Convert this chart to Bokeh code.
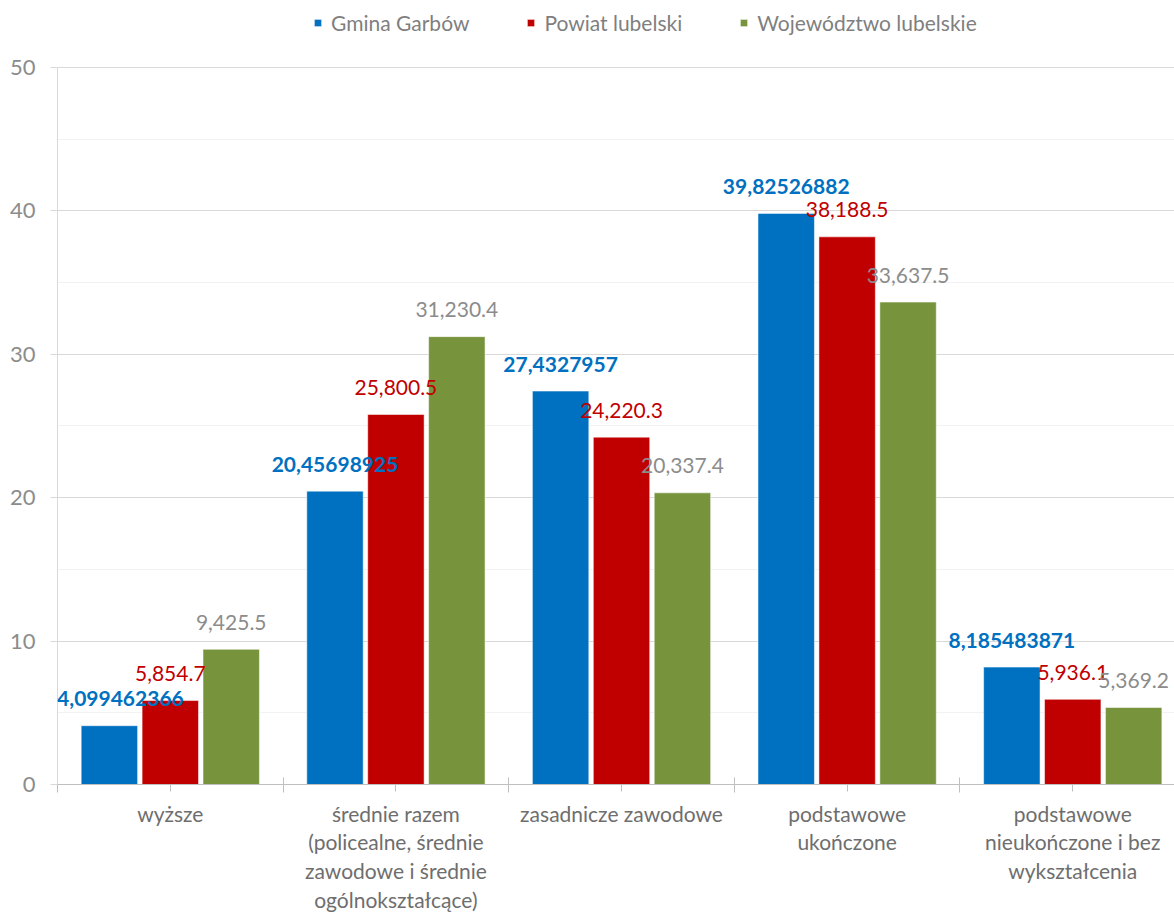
import numpy as np
from bokeh.plotting import figure
from bokeh.models import ColumnDataSource, FixedTicker, Legend, LegendItem, Range1d, LabelSet
from bokeh.transform import dodge
from bokeh.core.properties import value
from bokeh.embed import file_html
from bokeh.resources import INLINE

categories = [
    "wyższe",
    "średnie razem\n(policealne, średnie\nzawodowe i średnie\nogólnokształcące)",
    "zasadnicze zawodowe",
    "podstawowe\nukończone",
    "podstawowe\nnieukończone i bez\nwykształcenia",
]
series_names = ["Gmina Garbów", "Powiat lubelski", "Województwo lubelskie"]
gmina = [4.099462366, 20.45698925, 27.4327957, 39.82526882, 8.185483871]
powiat = [5.8547, 25.8005, 24.2203, 38.1885, 5.9361]
wojew = [9.4255, 31.2304, 20.3374, 33.6375, 5.3692]
gmina_labels = ["4,099462366", "20,45698925", "27,4327957", "39,82526882", "8,185483871"]
powiat_labels = ["5,854.7", "25,800.5", "24,220.3", "38,188.5", "5,936.1"]
wojew_labels = ["9,425.5", "31,230.4", "20,337.4", "33,637.5", "5,369.2"]
y_ticks = [0, 10, 20, 30, 40, 50]
y_minor = [5, 15, 25, 35, 45]

FONT = "Lato"
bar_colors = ["#0070C0", "#C00000", "#77933C"]
label_colors = ["#0070C0", "#C00000", "#8C8C8C"]
label_styles = ["bold", "normal", "normal"]

n = len(categories)
xc = np.arange(n) + 0.5               # category centres on a numeric axis
boundaries = list(np.arange(n + 1))   # category boundaries (Excel-style cross ticks)
# keep the first (leftmost) label inside the plot frame so it is not clipped
dx = [11 if i == 0 else 0 for i in range(n)]
src = ColumnDataSource(dict(
    x=xc, gmina=gmina, powiat=powiat, wojew=wojew,
    gl=gmina_labels, pl=powiat_labels, wl=wojew_labels, dx=dx,
))

p = figure(
    x_range=Range1d(0, 4.951),   # the original plot area runs past the right window edge
    y_range=Range1d(0, 54.67),
    width=1174, height=914,
    output_backend="svg", toolbar_location=None,
    min_border_left=57, min_border_right=0, min_border_top=0, min_border_bottom=0,
)
p.outline_line_color = None
p.background_fill_color = "white"

offsets = [-0.27, 0.0, 0.27]
cols = ["gmina", "powiat", "wojew"]
lab_cols = ["gl", "pl", "wl"]
items = []
for i in range(3):
    r = p.vbar(x=dodge("x", offsets[i]), top=cols[i], width=0.25,
               source=src, fill_color=bar_colors[i], line_color="white", line_width=0.5)
    items.append(LegendItem(label=series_names[i], renderers=[r]))
for i in range(3):
    ls = LabelSet(x=dodge("x", offsets[i]), y=cols[i], text=lab_cols[i], source=src,
                  text_align="center", text_baseline="middle", y_offset=27,
                  x_offset="dx" if i == 0 else 0,
                  text_font=value(FONT), text_font_size="21px", text_font_style=label_styles[i],
                  text_color=label_colors[i])
    p.add_layout(ls)

legend = Legend(items=items, orientation="horizontal", location=(256, 749),
                border_line_color=None, background_fill_alpha=0,
                label_text_font=FONT, label_text_font_size="21px", label_text_color="#7F7F7F",
                glyph_width=9, glyph_height=9, label_standoff=9, spacing=57,
                padding=0, margin=0, label_height=20)
p.add_layout(legend)

# y axis
p.yaxis.ticker = FixedTicker(ticks=y_ticks, minor_ticks=y_minor)
p.yaxis.bounds = (0, 50)
p.yaxis.axis_line_color = "#D9D9D9"
p.yaxis.major_tick_line_color = "#D9D9D9"
p.yaxis.major_tick_in = 0
p.yaxis.major_tick_out = 7
p.yaxis.minor_tick_line_color = None
p.yaxis.major_label_text_font = FONT
p.yaxis.major_label_text_font_size = "22px"
p.yaxis.major_label_text_font_style = "normal"
p.yaxis.major_label_text_color = "#8C8C8C"
p.yaxis.major_label_standoff = 15

# x axis
p.xaxis.ticker = FixedTicker(ticks=list(xc), minor_ticks=boundaries)
p.xaxis.major_label_overrides = {float(v): c for v, c in zip(xc, categories)}
p.xaxis.axis_line_color = "#BFBFBF"
p.xaxis.major_tick_line_color = "#BFBFBF"
p.xaxis.major_tick_in = 0
p.xaxis.major_tick_out = 7
p.xaxis.minor_tick_line_color = "#BFBFBF"
p.xaxis.minor_tick_in = 7
p.xaxis.minor_tick_out = 8
p.xaxis.major_label_text_font = FONT
p.xaxis.major_label_text_font_size = "21px"
p.xaxis.major_label_text_color = "#6E6E6E"
p.xaxis.major_label_standoff = 8
p.xaxis.major_label_text_line_height = 1.15
p.xaxis.major_label_orientation = "horizontal"

p.xgrid.grid_line_color = None
p.ygrid.grid_line_color = "#D9D9D9"
p.ygrid.minor_grid_line_color = "#F2F2F2"

open("out.html", "w").write(file_html(p, INLINE))
